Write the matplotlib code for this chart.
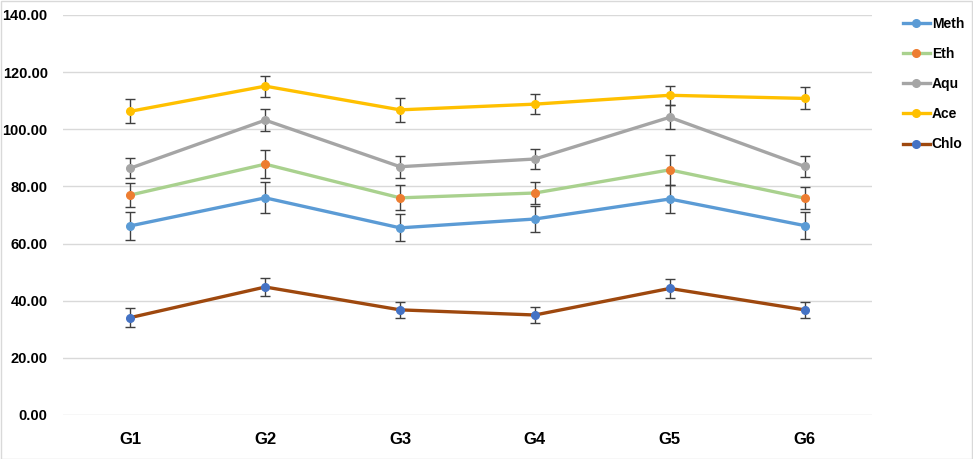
import matplotlib
matplotlib.use("Agg")
import matplotlib.pyplot as plt
from matplotlib.lines import Line2D
from matplotlib.patches import Rectangle
from matplotlib.font_manager import FontProperties

categories = ["G1", "G2", "G3", "G4", "G5", "G6"]

meth = [66.2, 76.0, 65.5, 68.6, 75.6, 66.3]
meth_err = [5.0, 5.4, 4.7, 4.6, 5.0, 4.7]
eth = [77.0, 87.8, 76.0, 77.7, 85.8, 75.9]
eth_err = [4.3, 5.0, 4.4, 3.9, 5.2, 3.85]
aqu = [86.4, 103.2, 86.9, 89.6, 104.2, 87.0]
aqu_err = [3.4, 3.9, 3.8, 3.4, 4.2, 3.7]
ace = [106.3, 115.1, 106.8, 108.8, 111.9, 110.8]
ace_err = [4.2, 3.7, 4.1, 3.6, 3.3, 3.85]
chlo = [34.1, 44.8, 36.8, 35.0, 44.3, 36.8]
chlo_err = [3.2, 3.2, 2.8, 2.8, 3.2, 2.8]

series_names = ["Meth", "Eth", "Aqu", "Ace", "Chlo"]
line_colors = ["#5B9BD5", "#A9D18E", "#A5A5A5", "#FFC000", "#9E480E"]
marker_colors = ["#5B9BD5", "#ED7D31", "#A5A5A5", "#FFC000", "#4472C4"]
y_ticks = [0, 20, 40, 60, 80, 100, 120, 140]

plt.rcParams['font.family'] = ['Liberation Sans', 'DejaVu Sans']

fig = plt.figure(figsize=(9.73, 4.59), dpi=100)
ax = fig.add_axes([63 / 973, 44 / 459, 809 / 973, 400 / 459])

x = list(range(len(categories)))
data = [meth, eth, aqu, ace, chlo]
errs = [meth_err, eth_err, aqu_err, ace_err, chlo_err]

handles = []
for name, vals, err, lc, mc in zip(series_names, data, errs, line_colors, marker_colors):
    ax.errorbar(x, vals, yerr=err, fmt='none', ecolor='#404040', elinewidth=1.0,
                capsize=3.5, capthick=1.0, zorder=3)
    ax.plot(x, vals, color=lc, linewidth=2.4, zorder=4)
    ax.plot(x, vals, linestyle='none', marker='o', markersize=5.5,
            markerfacecolor=mc, markeredgecolor=mc, zorder=5)
    handles.append(Line2D([0], [0], color=lc, linewidth=2.4, marker='o', markersize=5.5,
                          markerfacecolor=mc, markeredgecolor=mc, label=name))

ax.set_xlim(-0.5, len(categories) - 0.5)
ax.set_ylim(0, 140)
ax.set_yticks(y_ticks)
ax.set_yticklabels([f"{v:.2f}" for v in y_ticks], fontsize=10.5, fontweight='bold')
ax.set_xticks(x)
ax.set_xticklabels(categories, fontsize=12, fontweight='bold')
ax.tick_params(axis='both', length=0)
ax.tick_params(axis='y', pad=11)
ax.tick_params(axis='x', pad=12)
ax.grid(axis='y', color='#D9D9D9', linewidth=1.0)
ax.set_axisbelow(True)
for s in ax.spines.values():
    s.set_visible(False)

legend_font = FontProperties(family=['Liberation Sans', 'DejaVu Sans'], weight='bold', size=10)
leg = fig.legend(handles=handles, loc='upper left', bbox_to_anchor=(890 / 973, 1 - 4 / 459),
                 frameon=False, labelspacing=1.17, handlelength=2.0,
                 handletextpad=0.1, prop=legend_font)

fig.patches.append(Rectangle((0.5 / 973, 0.5 / 459), 1 - 1.5 / 973, 1 - 1.5 / 459,
                             transform=fig.transFigure, fill=False,
                             edgecolor='#D9D9D9', linewidth=1.0))

fig.savefig("out.png", dpi=100)
